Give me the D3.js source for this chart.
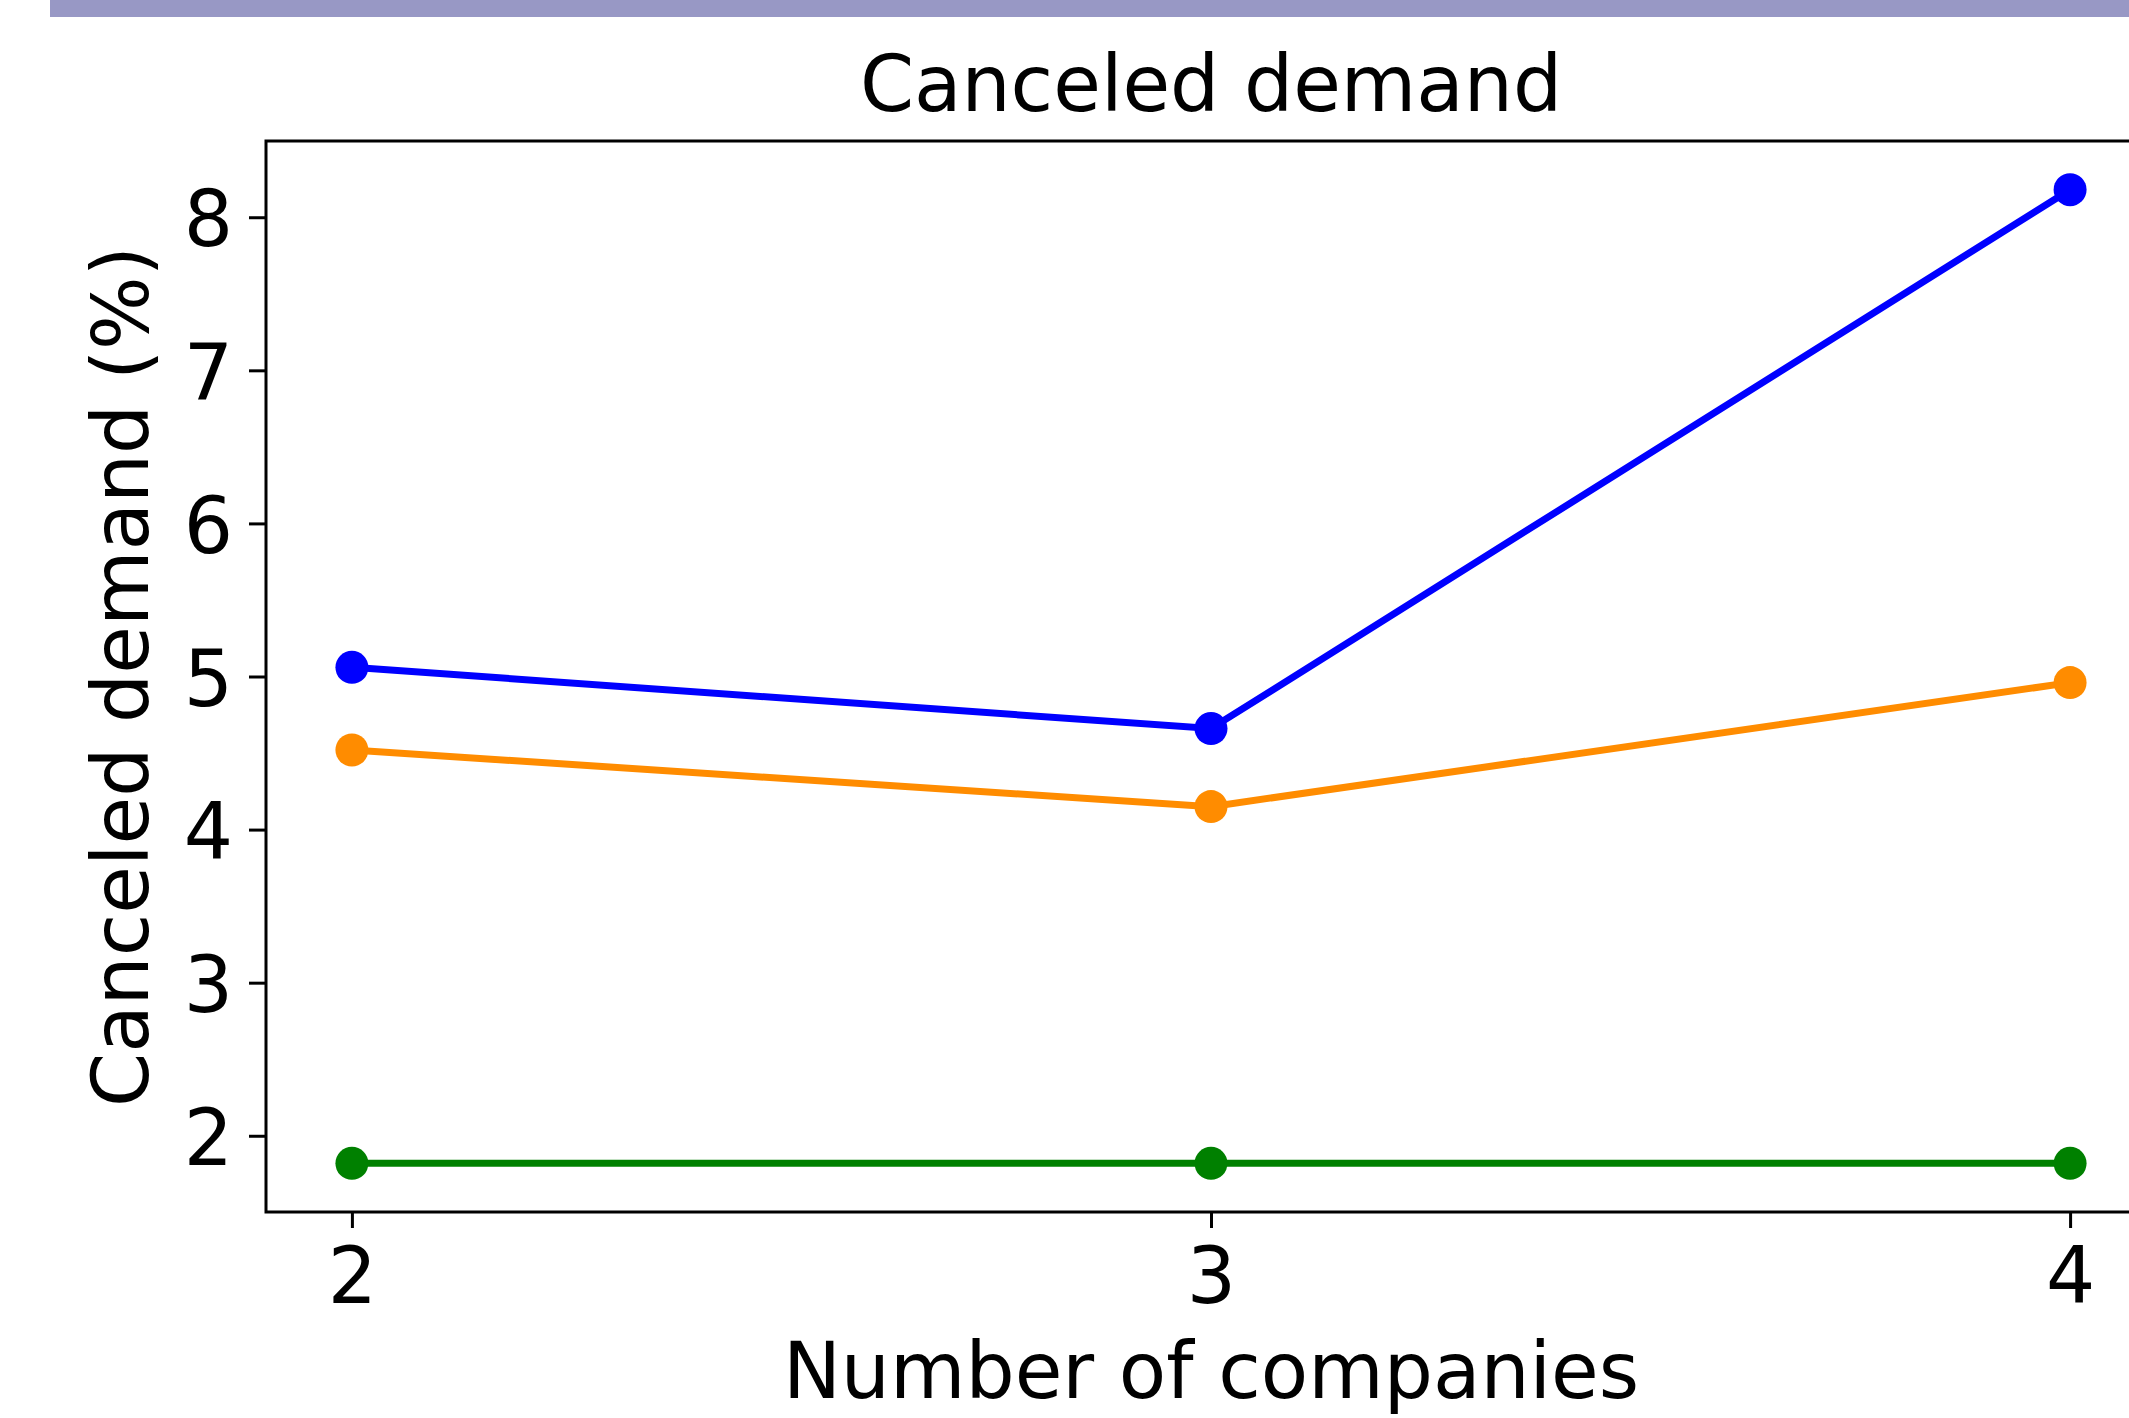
<!DOCTYPE html>
<html>
<head>
<meta charset="utf-8">
<script src="https://cdn.jsdelivr.net/npm/d3@7"></script>
<style>
  html, body { margin: 0; padding: 0; background: #fff; }
  svg { display: block; }
</style>
</head>
<body>
<svg id="chart"></svg>
<script>
// data
var companies = [2, 3, 4];
var blueSeries = [5.06, 4.66, 8.18];
var orangeSeries = [4.52, 4.15, 4.96];
var greenSeries = [1.82, 1.82, 1.82];
var yTicks = [2, 3, 4, 5, 6, 7, 8];
var xTicks = [2, 3, 4];
var titleText = "Canceled demand";
var xLabelText = "Number of companies";
var yLabelText = "Canceled demand (%)";

var series = [
    { name: "blue", color: "#0000ff", values: blueSeries },
    { name: "orange", color: "#ff8c00", values: orangeSeries },
    { name: "green", color: "#008000", values: greenSeries }
];

make_chart = function () {
    var width = 2129, height = 1418;
    var margin = { top: 141, right: -27, bottom: 206, left: 266 };
    var font = "DejaVu Sans";
    var fontSize = 77.5;

    var svg = d3.select("#chart")
        .attr("width", width)
        .attr("height", height);

    // band across the top
    svg.append("rect")
        .attr("x", 50).attr("y", 0)
        .attr("width", width - 50).attr("height", 17)
        .attr("fill", "#9898c5");

    // matplotlib-ish 5% margins
    var xMin = d3.min(companies), xMax = d3.max(companies);
    var xPad = (xMax - xMin) * 0.05;
    var allVals = d3.merge(series.map(s => s.values));
    var yMin = d3.min(allVals), yMax = d3.max(allVals);
    var yPad = (yMax - yMin) * 0.05;

    var x = d3.scaleLinear()
        .domain([xMin - xPad, xMax + xPad])
        .range([margin.left, width - margin.right]);

    var y = d3.scaleLinear()
        .domain([yMin - yPad, yMax + yPad])
        .range([height - margin.bottom, margin.top]);

    // axes
    var yAxis = g => g
        .attr("transform", `translate(${margin.left},0)`)
        .call(d3.axisLeft(y).tickValues(yTicks).tickFormat(d3.format("d")).tickSize(17).tickPadding(16).tickSizeOuter(0))
        .call(g => g.select(".domain").remove())
        .call(g => g.selectAll(".tick line").attr("stroke", "#000").attr("stroke-width", 3))
        .call(g => g.selectAll(".tick text")
            .attr("font-family", font)
            .attr("font-size", fontSize)
            .attr("fill", "#000")
            .attr("dy", "0.37em"));

    var xAxis = g => g
        .attr("transform", `translate(0,${height - margin.bottom})`)
        .call(d3.axisBottom(x).tickValues(xTicks).tickFormat(d3.format("d")).tickSize(16).tickPadding(20).tickSizeOuter(0))
        .call(g => g.select(".domain").remove())
        .call(g => g.selectAll(".tick line").attr("stroke", "#000").attr("stroke-width", 3))
        .call(g => g.selectAll(".tick text")
            .attr("font-family", font)
            .attr("font-size", fontSize)
            .attr("fill", "#000")
            .attr("dy", "0.71em"));

    svg.append("g").call(yAxis);
    svg.append("g").call(xAxis);

    // lines + markers
    var line = d3.line()
        .x((d, i) => x(companies[i]))
        .y(d => y(d));

    var g = svg.append("g");
    series.forEach(function (s) {
        g.append("path")
            .attr("d", line(s.values))
            .attr("fill", "none")
            .attr("stroke", s.color)
            .attr("stroke-width", 7);
        g.selectAll(null)
            .data(s.values)
            .join("circle")
            .attr("cx", (d, i) => x(companies[i]))
            .attr("cy", d => y(d))
            .attr("r", 16.5)
            .attr("fill", s.color);
    });

    // spines (right one falls off the canvas)
    svg.append("path")
        .attr("d", `M${width},${margin.top}H${margin.left}V${height - margin.bottom}H${width}`)
        .attr("fill", "none")
        .attr("stroke", "#000")
        .attr("stroke-width", 3);

    var axesCenterX = (margin.left + width - margin.right) / 2;
    var axesCenterY = (margin.top + height - margin.bottom) / 2;

    svg.append("text")
        .attr("x", axesCenterX)
        .attr("y", 111)
        .attr("text-anchor", "middle")
        .attr("font-family", font)
        .attr("font-size", fontSize)
        .text(titleText);

    svg.append("text")
        .attr("x", axesCenterX)
        .attr("y", 1398)
        .attr("text-anchor", "middle")
        .attr("font-family", font)
        .attr("font-size", fontSize)
        .text(xLabelText);

    svg.append("text")
        .attr("transform", `translate(148,${axesCenterY}) rotate(-90)`)
        .attr("text-anchor", "middle")
        .attr("font-family", font)
        .attr("font-size", fontSize)
        .text(yLabelText);
}

make_chart();
</script>
</body>
</html>
